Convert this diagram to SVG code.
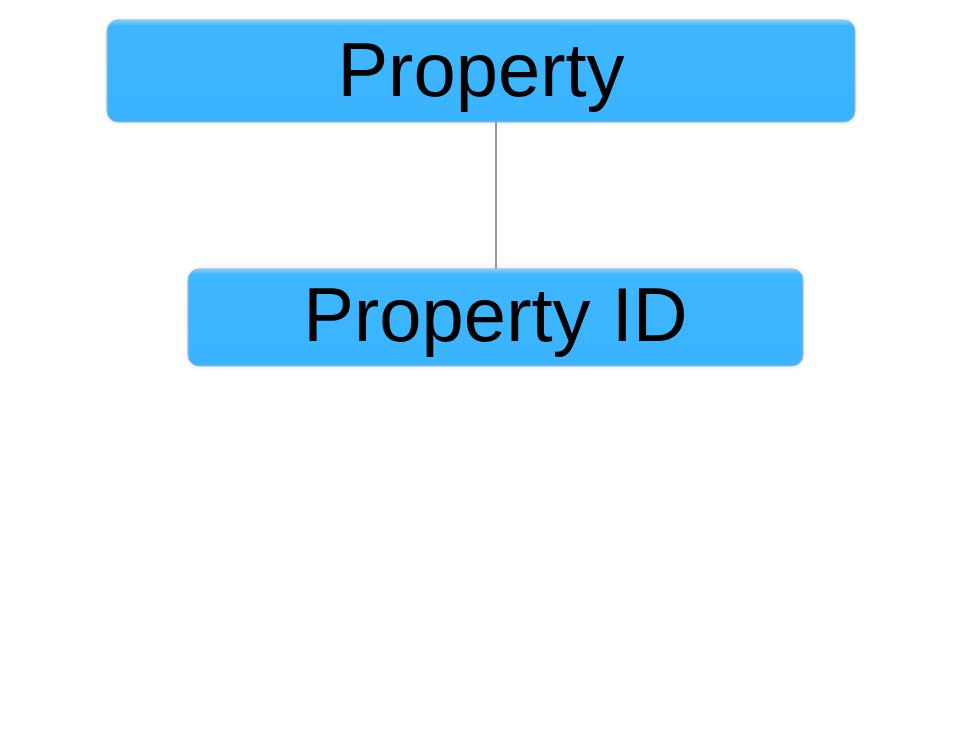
<svg xmlns="http://www.w3.org/2000/svg" width="962" height="743" viewBox="0 0 962 743">
<defs>
<linearGradient id="g" x1="0" y1="0" x2="0" y2="1">
<stop offset="0" stop-color="#7fd3ff"/>
<stop offset="0.06" stop-color="#3db6ff"/>
<stop offset="1" stop-color="#3ab4ff"/>
</linearGradient>
<filter id="sh" x="-5%" y="-20%" width="110%" height="140%">
<feGaussianBlur in="SourceAlpha" stdDeviation="2"/>
<feComponentTransfer><feFuncA type="linear" slope="0.15"/></feComponentTransfer>
<feMerge><feMergeNode/><feMergeNode in="SourceGraphic"/></feMerge>
</filter>
</defs>
<style>
.box{fill:url(#g);stroke:#9ab8cc;stroke-width:1;filter:url(#sh)}
.lbl{font-family:"Liberation Sans",Arial,sans-serif;font-size:76px;fill:#000;text-anchor:middle}
.conn{stroke:#9a98b0;stroke-width:2;fill:none}
</style>
<rect width="962" height="743" fill="#fff"/>
<g id="connectors">
<line class="conn" x1="496" y1="122" x2="496" y2="269"/>
</g>
<g id="node-property">
<rect class="box" x="107" y="20" width="748" height="102" rx="11"/>
<text class="lbl" x="481" y="96">Property</text>
</g>
<g id="node-property-id">
<rect class="box" x="188" y="269" width="615" height="97" rx="11"/>
<text class="lbl" x="495.5" y="341">Property ID</text>
</g>
</svg>
